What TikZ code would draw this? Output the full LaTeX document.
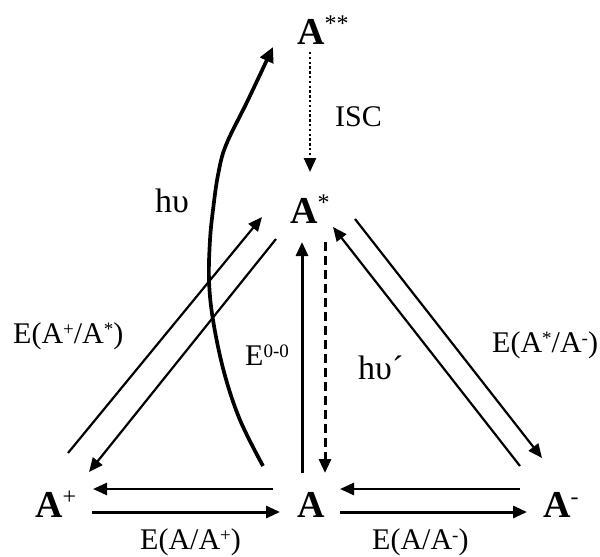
\documentclass[tikz,border=0pt]{standalone}
\usepackage{fontspec}
\setmainfont{Liberation Serif}
\usetikzlibrary{arrows.meta}
\newcommand\bigsup[1]{\raisebox{12.5pt}{\fontsize{24}{24}\selectfont #1}}
\newcommand\smallsup[1]{\raisebox{7.5pt}{\fontsize{19}{19}\selectfont #1}}
\begin{document}
\begin{tikzpicture}[x=1pt,y=-1pt,
  species/.style={inner sep=0pt,anchor=base west,font=\fontsize{38}{40}\selectfont\bfseries},
  lbl/.style={inner sep=0pt,anchor=base west,font=\fontsize{30}{32}\selectfont},
  hlbl/.style={inner sep=0pt,anchor=base west,font=\fontsize{34}{36}\selectfont},
  tip/.style={-{Triangle[length=14pt,width=12pt]}},
  diag/.style={tip,line width=2.2pt},
  horiz/.style={tip,line width=2.6pt}
]
\useasboundingbox (0,0) rectangle (600,557);

% species
\node[species] (Ass) at (297,44) {A\bigsup{\mdseries**}};
\node[species] (As)  at (290,223) {A\bigsup{\mdseries*}};
\node[species] (Ap)  at (35,517) {A\bigsup{\mdseries+}};
\node[species] (A)   at (297,517) {A};
\node[species] (Am)  at (543,517) {A\bigsup{\mdseries-}};

% labels
\node[lbl]  (isc)  at (335,126) {ISC};
\node[hlbl] (hv)   at (155,212) {hυ};
\node[lbl]  (eps)  at (13,343)  {E(A\smallsup{+}/A\smallsup{*})};
\node[lbl]  (e00)  at (245,365) {E\smallsup{0-0}};
\node[hlbl] (hvp)  at (358,379) {hυ´};
\node[lbl]  (esm)  at (492,352) {E(A\smallsup{*}/A\smallsup{-})};
\node[lbl]  (eap)  at (140,549) {E(A/A\smallsup{+})};
\node[lbl]  (eam)  at (372,549) {E(A/A\smallsup{-})};

% connector end points
\coordinate (iscS) at (310,52);   \coordinate (iscE) at (310,172);
\coordinate (lpS)  at (68,453);   \coordinate (lpE)  at (262,217);
\coordinate (lmS)  at (276,239);  \coordinate (lmE)  at (89,472);
\coordinate (rpS)  at (520,466);  \coordinate (rpE)  at (333,227);
\coordinate (rmS)  at (355,219);  \coordinate (rmE)  at (542,458);
\coordinate (vS)   at (302,473);  \coordinate (vE)   at (302,242);
\coordinate (dS)   at (325,242);  \coordinate (dE)   at (325,473);
\coordinate (h1S)  at (273,489);  \coordinate (h1E)  at (93,489);
\coordinate (h2S)  at (92,512);   \coordinate (h2E)  at (280,512);
\coordinate (h3S)  at (520,489);  \coordinate (h3E)  at (340,489);
\coordinate (h4S)  at (340,512);  \coordinate (h4E)  at (527,512);
\coordinate (cS)   at (263,466);  \coordinate (cE)   at (273,47);

% ISC
\draw[tip,line width=2.5pt,dash pattern=on 2.4pt off 2.4pt] (iscS) -- (iscE);
% left pair
\draw[diag] (lpS) -- (lpE);
\draw[diag] (lmS) -- (lmE);
% right pair
\draw[diag] (rpS) -- (rpE);
\draw[diag] (rmS) -- (rmE);
% vertical
\draw[tip,line width=3pt] (vS) -- (vE);
\draw[tip,line width=3pt,dash pattern=on 9pt off 5pt] (dS) -- (dE);
% horizontal
\draw[horiz] (h1S) -- (h1E);
\draw[horiz,line width=3pt] (h2S) -- (h2E);
\draw[horiz] (h3S) -- (h3E);
\draw[horiz,line width=3pt] (h4S) -- (h4E);
% h nu curve
\draw[-{Triangle[length=15pt,width=14pt]},line width=3.7pt]
  plot[smooth,tension=0.6] coordinates {(cS) (240,420) (224,372) (213,320) (209,280) (210,240) (213,210) (218,175) (226,145) (248,100) (cE)};
\end{tikzpicture}
\end{document}
